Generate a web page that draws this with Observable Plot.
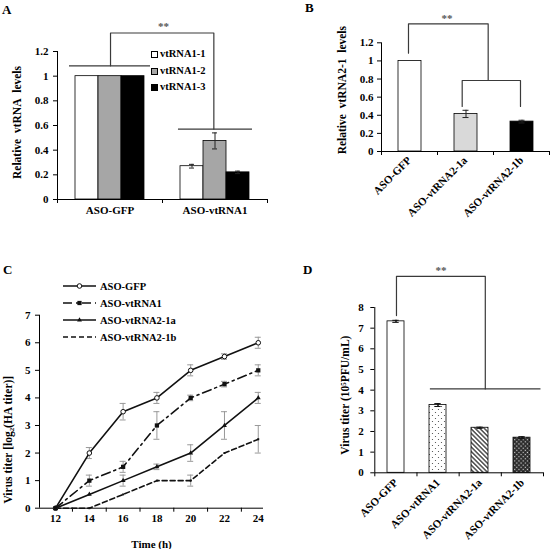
<!DOCTYPE html>
<html><head><meta charset="utf-8">
<script src="https://cdn.jsdelivr.net/npm/d3@7"></script>
<script src="https://cdn.jsdelivr.net/npm/@observablehq/plot@0.6"></script>
<style>
body{margin:0;background:#fff;}
#fig{position:relative;width:551px;height:549px;overflow:hidden;background:#fff;font-family:"Liberation Serif","Times New Roman",Times,serif;font-weight:bold;color:#000;}
#fig > svg{position:absolute;}
.letter{position:absolute;font-size:13px;line-height:1;font-weight:bold;}
.leg{position:absolute;font-size:10.5px;line-height:12px;white-space:nowrap;}
.sw{display:inline-block;width:7px;height:7px;border:1px solid #000;margin-right:2px;vertical-align:-1px;box-sizing:border-box;}
</style></head><body><div id="fig">
<svg width="0" height="0" style="position:absolute;left:0;top:0"><defs>
<pattern id="pDots" width="6" height="6" patternUnits="userSpaceOnUse">
<rect width="6" height="6" fill="#fff"/><circle cx="1.5" cy="1.5" r="0.6" fill="#444"/><circle cx="4.5" cy="4.5" r="0.6" fill="#444"/>
</pattern>
<pattern id="pHatch" width="3.2" height="3.2" patternUnits="userSpaceOnUse" patternTransform="rotate(-45)">
<rect width="3.2" height="3.2" fill="#fff"/><line x1="0.8" y1="0" x2="0.8" y2="3.2" stroke="#333" stroke-width="1.3"/>
</pattern>
<pattern id="pCross" width="3" height="3" patternUnits="userSpaceOnUse" patternTransform="rotate(45)">
<rect width="3" height="3" fill="#2a2a2a"/><rect x="0.9" y="0.9" width="1.2" height="1.2" fill="#ddd"/>
</pattern>
</defs></svg>
</div>
<script>
// ---------- Panel A data ----------
const groupsA = ["ASO-GFP", "ASO-vtRNA1"];
const seriesA = ["vtRNA1-1", "vtRNA1-2", "vtRNA1-3"];
const valuesA = [[1, 1, 1], [0.27, 0.475, 0.22]];
const errorsA = [[0, 0, 0], [0.015, 0.065, 0.01]];
const colorsA = ["#ffffff", "#a6a6a6", "#000000"];
const ticksA = [0, 0.2, 0.4, 0.6, 0.8, 1, 1.2];
const titleA = "Relative\u00a0 vtRNA\u00a0 levels";
// significance annotation (category units / data units)
const bracketA = [{id: 1, x: 0.505, y: 1.084}, {id: 1, x: 0.505, y: 1.35}, {id: 1, x: 1.489, y: 1.35}, {id: 1, x: 1.489, y: 0.571}];
const groupLinesA = [{x1: 0.114, x2: 0.886, y: 1.084}, {x1: 1.152, x2: 1.857, y: 0.571}];
const starsA = [{x: 1.01, y: 1.40, t: "**"}];

// ---------- Panel B data ----------
const catsB = ["ASO-GFP", "ASO-vtRNA2-1a", "ASO-vtRNA2-1b"];
const valuesB = [1, 0.415, 0.33];
const errorsB = [0, 0.04, 0.015];
const colorsB = ["#ffffff", "#d9d9d9", "#000000"];
const ticksB = [0, 0.2, 0.4, 0.6, 0.8, 1, 1.2];
const titleB = "Relative\u00a0 vtRNA2-1\u00a0 levels";
const bracketB = [
  {id: 1, x: 0.482, y: 1.085}, {id: 1, x: 0.482, y: 1.41}, {id: 1, x: 1.905, y: 1.41}, {id: 1, x: 1.905, y: 0.784},
  {id: 2, x: 1.441, y: 0.497}, {id: 2, x: 1.441, y: 0.784}, {id: 2, x: 2.482, y: 0.784}, {id: 2, x: 2.482, y: 0.497}
];
const starsB = [{x: 1.17, y: 1.47, t: "**"}];

// ---------- Panel C data ----------
const timesC = [12, 14, 16, 18, 20, 22, 24];
const seriesC = ["ASO-GFP", "ASO-vtRNA1", "ASO-vtRNA2-1a", "ASO-vtRNA2-1b"];
const titerGFP = [0, 2, 3.5, 4, 5, 5.5, 6];
const titerVt1 = [0, 1, 1.5, 3, 4, 4.5, 5];
const titer21a = [0, 0.5, 1, 1.5, 2, 3, 4];
const titer21b = [0, 0, 0.5, 1, 1, 2, 2.5];
const errGFP = [0, 0.2, 0.3, 0.2, 0.2, 0.1, 0.2];
const errVt1 = [0, 0.2, 0.2, 0.5, 0.1, 0.1, 0.2];
const err21a = [0, 0, 0.2, 0.1, 0.3, 0.5, 0.2];
const err21b = [0, 0, 0, 0, 0.2, 0, 0.5];
const ticksCy = [0, 1, 2, 3, 4, 5, 6, 7];
const labelTicksC = [12, 14, 16, 18, 20, 22, 24];
const minorTicksC = [13, 15, 17, 19, 21, 23];
const xDomainC = [11.05, 24.31];
const titleC = "Virus titer [log\u2082(HA titer)]";

// ---------- Panel D data ----------
const catsD = ["ASO-GFP", "ASO-vtRNA1", "ASO-vtRNA2-1a", "ASO-vtRNA2-1b"];
const valuesD = [7.33, 3.28, 2.18, 1.7];
const errorsD = [0.05, 0.07, 0.03, 0.05];
const fillsD = ["#ffffff", "url(#pDots)", "url(#pHatch)", "url(#pCross)"];
const ticksD = [0, 1, 2, 3, 4, 5, 6, 7, 8];
const titleD = "Virus titer (10\u2075PFU/mL)";
const bracketD = [{id: 1, x: 0.514, y: 7.61}, {id: 1, x: 0.514, y: 9.51}, {id: 1, x: 2.62, y: 9.51}, {id: 1, x: 2.62, y: 4.06}];
const groupLinesD = [{x1: 1.318, x2: 3.94, y: 4.06}];
const starsD = [{x: 1.57, y: 9.8, t: "**"}];

// ---------- helpers ----------
const fig = document.getElementById("fig");
const STYLE = "background:transparent;font-family:'Liberation Serif','Times New Roman',Times,serif;font-size:11px;font-weight:bold;color:#000;overflow:visible;";
const LINE = "#3a3a3a";
const fmt = d => String(+(+d).toFixed(1));
function place(node, left, top) {
  node.style.position = "absolute";
  node.style.left = left + "px";
  node.style.top = top + "px";
  fig.appendChild(node);
}
function letter(t, left, top) {
  const d = document.createElement("div");
  d.className = "letter"; d.textContent = t;
  d.style.left = left + "px"; d.style.top = top + "px";
  fig.appendChild(d);
}
// overlay with category-unit x scale: axis lines, boundary ticks, category labels, brackets
function overlay(dim, cats, ydom, opts) {
  return Plot.plot({
    ...dim, style: STYLE,
    x: {domain: [0, cats.length]},
    y: {domain: ydom, axis: null},
    marks: [
      Plot.ruleY([ydom[0]], {stroke: "#000", strokeWidth: 1}),
      Plot.ruleX([0], {stroke: "#000", strokeWidth: 1}),
      Plot.axisX({ticks: d3.range(cats.length + 1), tickSize: 4, tickFormat: () => "", label: null, stroke: "#000"}),
      Plot.axisX({ticks: cats.map((_, i) => i + 0.5), tickSize: 0, tickPadding: opts.pad, tickRotate: opts.rotate,
                  tickFormat: d => cats[Math.floor(d)], label: null, fontSize: 11}),
      opts.groupLines ? Plot.ruleY(opts.groupLines, {x1: "x1", x2: "x2", y: "y", stroke: LINE, strokeWidth: 1.2}) : null,
      Plot.line(opts.bracket, {x: "x", y: "y", z: "id", stroke: LINE, strokeWidth: 1.2}),
      Plot.text(opts.stars, {x: "x", y: "y", text: "t", fill: "#555", fontSize: 11, lineAnchor: "middle"}),
      Plot.text([opts.title], {frameAnchor: "left", rotate: -90, dx: opts.tdx, dy: opts.tdy, textAnchor: "middle", lineAnchor: "middle", fontSize: 11.5})
    ]
  });
}

// ---------- Panel A ----------
const dimA = {width: 275, height: 260, marginLeft: 57, marginRight: 8, marginTop: 51, marginBottom: 61};
const dataA = [];
groupsA.forEach((g, gi) => seriesA.forEach((s, si) => dataA.push({group: g, series: s, value: valuesA[gi][si], err: errorsA[gi][si]})));
const errA = dataA.filter(d => d.err > 0);
place(Plot.plot({
  ...dimA, style: STYLE,
  fx: {domain: groupsA, padding: 0, axis: null},
  x: {domain: seriesA, paddingInner: 0, paddingOuter: 0.75, axis: null},
  y: {domain: [0, 1.2]},
  color: {domain: seriesA, range: colorsA},
  marks: [
    Plot.axisY({ticks: ticksA, tickSize: 4, tickPadding: 5, tickFormat: fmt, label: null, stroke: "#000"}),
    Plot.barY(dataA, {fx: "group", x: "series", y: "value", fill: "series", stroke: "#000", strokeWidth: 0.8}),
    Plot.ruleX(errA, {fx: "group", x: "series", y1: d => d.value - d.err, y2: d => d.value + d.err, stroke: "#222"}),
    Plot.tickY(errA, {fx: "group", x: "series", y: d => d.value - d.err, insetLeft: 9, insetRight: 9, stroke: "#222"}),
    Plot.tickY(errA, {fx: "group", x: "series", y: d => d.value + d.err, insetLeft: 9, insetRight: 9, stroke: "#222"})
  ]
}), 0, 0);
place(overlay(dimA, groupsA, [0, 1.2], {pad: 7, rotate: 0, groupLines: groupLinesA, bracket: bracketA, stars: starsA, title: titleA, tdx: -40, tdy: -3}), 0, 0);
seriesA.forEach((s, i) => {
  const row = document.createElement("div");
  row.className = "leg";
  row.innerHTML = `<span class="sw" style="background:${colorsA[i]}"></span>${s}`;
  row.style.left = "151px"; row.style.top = (48 + i * 16.7) + "px";
  fig.appendChild(row);
});

// ---------- Panel B ----------
const dimB = {width: 276, height: 260, marginLeft: 106, marginRight: 2, marginTop: 42.3, marginBottom: 109};
const dataB = catsB.map((c, i) => ({cat: c, value: valuesB[i], err: errorsB[i]}));
const errB = dataB.filter(d => d.err > 0);
place(Plot.plot({
  ...dimB, style: STYLE,
  x: {domain: catsB, paddingInner: 0.59, paddingOuter: 0.295, axis: null},
  y: {domain: [0, 1.2]},
  color: {domain: catsB, range: colorsB},
  marks: [
    Plot.axisY({ticks: ticksB, tickSize: 4, tickPadding: 4, tickFormat: fmt, label: null, stroke: "#000"}),
    Plot.barY(dataB, {x: "cat", y: "value", fill: "cat", stroke: "#000", strokeWidth: 0.8}),
    Plot.ruleX(errB, {x: "cat", y1: d => d.value - d.err, y2: d => d.value + d.err, stroke: "#222"}),
    Plot.tickY(errB, {x: "cat", y: d => d.value - d.err, insetLeft: 8.5, insetRight: 8.5, stroke: "#222"}),
    Plot.tickY(errB, {x: "cat", y: d => d.value + d.err, insetLeft: 8.5, insetRight: 8.5, stroke: "#222"})
  ]
}), 275, 0);
place(overlay(dimB, catsB, [0, 1.2], {pad: 7, rotate: -45, bracket: bracketB, stars: starsB, title: titleB, tdx: -39, tdy: -7}), 275, 0);

// ---------- Panel C ----------
const titersC = [titerGFP, titerVt1, titer21a, titer21b];
const errsC = [errGFP, errVt1, err21a, err21b];
const dataC = [];
seriesC.forEach((s, si) => timesC.forEach((t, ti) => dataC.push({series: s, t, v: titersC[si][ti], e: errsC[si][ti]})));
const errC = dataC.filter(d => d.e > 0);
const dashC = [null, "9,4,2,4", null, "5,3"];
const symC = [
  {symbol: "circle", r: 2.3, fill: "#fff", stroke: "#111", strokeWidth: 1},
  {symbol: "square", r: 2.4, fill: "#111", stroke: "none"},
  {symbol: "triangle", r: 1.8, fill: "#111", stroke: "none"},
  {symbol: "square", r: 1.1, fill: "#111", stroke: "none"}
];
const lineMarksC = [];
seriesC.forEach((s, si) => {
  const d = dataC.filter(r => r.series === s);
  lineMarksC.push(Plot.line(d, {x: "t", y: "v", stroke: "#111", strokeWidth: 1.6, strokeDasharray: dashC[si]}));
});
seriesC.forEach((s, si) => {
  const d = dataC.filter(r => r.series === s);
  lineMarksC.push(Plot.dot(d, {x: "t", y: "v", ...symC[si]}));
});
place(Plot.plot({
  width: 275, height: 279, marginLeft: 39, marginRight: 12, marginTop: 44.7, marginBottom: 41.3, style: STYLE,
  x: {domain: xDomainC},
  y: {domain: [0, 7]},
  marks: [
    Plot.ruleY([0], {stroke: "#000"}),
    Plot.ruleX([xDomainC[0]], {stroke: "#000"}),
    Plot.axisY({ticks: ticksCy, tickSize: 4, tickPadding: 5, tickFormat: fmt, label: null, stroke: "#000"}),
    Plot.axisX({ticks: minorTicksC, tickSize: 4, tickFormat: () => "", label: null, stroke: "#000"}),
    Plot.axisX({ticks: labelTicksC, tickSize: 0, tickPadding: 6, tickFormat: fmt, label: "Time (h)", labelAnchor: "center", labelOffset: 40, labelArrow: false, fontSize: 11}),
    Plot.ruleX(errC, {x: "t", y1: d => d.v - d.e, y2: d => d.v + d.e, stroke: "#999"}),
    Plot.ruleY(errC, {x1: "t", x2: "t", y: d => d.v - d.e, insetLeft: -3, insetRight: -3, stroke: "#999"}),
    Plot.ruleY(errC, {x1: "t", x2: "t", y: d => d.v + d.e, insetLeft: -3, insetRight: -3, stroke: "#999"}),
    ...lineMarksC,
    Plot.text([titleC], {frameAnchor: "left", rotate: -90, dx: -31, dy: 28, textAnchor: "middle", lineAnchor: "middle", fontSize: 11.5})
  ]
}), 0, 270);
// legend C
{
  const svg = d3.create("svg").attr("width", 140).attr("height", 70)
    .style("font-family", "'Liberation Serif','Times New Roman',Times,serif").style("font-weight", "bold").style("font-size", "10.5px");
  seriesC.forEach((s, i) => {
    const y = 9 + i * 17;
    svg.append("line").attr("x1", 8).attr("x2", 41).attr("y1", y).attr("y2", y)
      .attr("stroke", "#111").attr("stroke-width", 1.6).attr("stroke-dasharray", dashC[i]);
    const m = symC[i];
    const sym = d3.symbol(m.symbol === "circle" ? d3.symbolCircle : m.symbol === "square" ? d3.symbolSquare : d3.symbolTriangle, Math.PI * m.r * m.r);
    if (i < 3) svg.append("path").attr("d", sym()).attr("transform", `translate(24.5,${y})`)
      .attr("fill", m.fill).attr("stroke", m.stroke).attr("stroke-width", m.strokeWidth || 0);
    svg.append("text").attr("x", 45).attr("y", y).attr("dy", "0.35em").text(s);
  });
  place(svg.node(), 55, 277);
}

// ---------- Panel D ----------
const dimD = {width: 276, height: 279, marginLeft: 99.3, marginRight: 8, marginTop: 37, marginBottom: 76.7};
const dataD = catsD.map((c, i) => ({cat: c, value: valuesD[i], err: errorsD[i]}));
place(Plot.plot({
  ...dimD, style: STYLE,
  x: {domain: catsD, paddingInner: 0.605, paddingOuter: 0.3025, axis: null},
  y: {domain: [0, 8]},
  color: {domain: catsD, range: fillsD},
  marks: [
    Plot.axisY({ticks: ticksD, tickSize: 4, tickPadding: 7, label: null, stroke: "#000"}),
    Plot.barY(dataD, {x: "cat", y: "value", fill: "cat", stroke: "#000", strokeWidth: 0.8}),
    Plot.ruleX(dataD, {x: "cat", y1: d => d.value - d.err, y2: d => d.value + d.err, stroke: "#111", strokeWidth: 1.5}),
    Plot.tickY(dataD, {x: "cat", y: d => d.value - d.err, insetLeft: 5.3, insetRight: 5.3, stroke: "#111"}),
    Plot.tickY(dataD, {x: "cat", y: d => d.value + d.err, insetLeft: 5.3, insetRight: 5.3, stroke: "#111"})
  ]
}), 275, 270);
place(overlay(dimD, catsD, [0, 8], {pad: 8, rotate: -45, groupLines: groupLinesD, bracket: bracketD, stars: starsD, title: titleD, tdx: -29, tdy: 5}), 275, 270);

letter("A", 2, 3);
letter("B", 305, 1);
letter("C", 3, 263);
letter("D", 303, 263);
</script></body></html>
